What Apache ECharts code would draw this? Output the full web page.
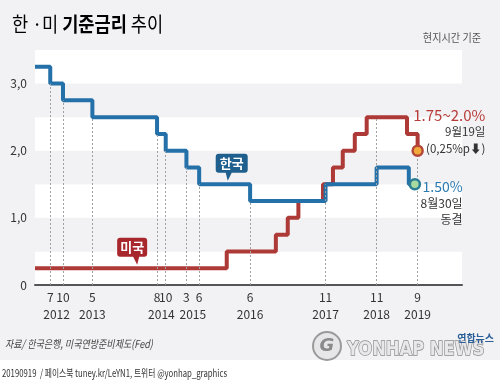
<!DOCTYPE html>
<html><head><meta charset="utf-8">
<script src="https://cdn.jsdelivr.net/npm/echarts@6/dist/echarts.min.js"></script>
<style>html,body{margin:0;padding:0;background:#f2f2f4;} #c{width:500px;height:385px;}</style>
</head><body><div id="c"></div>
<script>
// ---- data ----
const krDates = ['2012-03-25','2012-07-12','2012-10-11','2013-05-09','2014-08-14','2014-10-15','2015-03-12','2015-06-11','2016-06-09','2017-11-30','2018-11-30','2019-07-18','2019-08-30'];
const krRates = [3.25, 3.0, 2.75, 2.5, 2.25, 2.0, 1.75, 1.5, 1.25, 1.5, 1.75, 1.5, 1.5];
const usDates = ['2012-03-25','2015-12-25','2016-12-10','2017-03-05','2017-05-20','2017-11-12','2018-01-22','2018-04-02','2018-06-27','2018-09-20','2019-07-05','2019-09-19'];
const usRates = [0.25, 0.5, 0.75, 1.0, 1.25, 1.5, 1.75, 2.0, 2.25, 2.5, 2.25, 2.0];
const tickDates = ['2012-07-12','2012-10-11','2013-05-09','2014-08-14','2014-10-15','2015-03-12','2015-06-11','2016-06-09','2017-11-30','2018-11-30','2019-09-19'];
const yTicks = [0, 1, 2, 3];
const xMin = '2012-03-25', xMax = '2020-08-01';
const krName = '한국', usName = '미국';
const krBubbleAt = ['2016-01-01', 1.5];
const usBubbleAt = ['2014-03-25', 0.25];
const usNote = ['1.75~2.0%', '9월19일', '(0,25%p⬇)'];
const krNote = ['1.50%', '8월30일', '동결'];

// ---- helpers ----
function t(s){const p=s.split('-').map(Number);return Date.UTC(p[0],p[1]-1,p[2]);}
function rateAt(dates, rates, s){let v=rates[0];for(let i=0;i<dates.length;i++){if(t(dates[i])<=t(s))v=rates[i];}return v;}
const krData = krDates.map((d,i)=>[t(d), krRates[i]]);
const usData = usDates.map((d,i)=>[t(d), usRates[i]]);
const tickTs = tickDates.map(t);
const yearMids = (()=>{const g={};tickDates.forEach(d=>{const y=d.slice(0,4);(g[y]=g[y]||[]).push(t(d));});
  return Object.keys(g).map(y=>(Math.min(...g[y])+Math.max(...g[y]))/2);})();
const dotLines = tickDates.map(d=>[{coord:[t(d),0]},{coord:[t(d),Math.max(rateAt(krDates,krRates,d),rateAt(usDates,usRates,d))]}]);

const BLUE='#2470a8', RED='#ad3a36', FONT='"Noto Sans CJK KR", "Noto Sans", sans-serif';
const krBubble='path://M3,0 H29 Q32,0 32,3 V16 Q32,19 29,19 H16 L12,27 L10,19 H3 Q0,19 0,16 V3 Q0,0 3,0 Z';
const usBubble='path://M3,0 H27 Q30,0 30,3 V16 Q30,19 27,19 H22 L20,27 L16,19 H3 Q0,19 0,16 V3 Q0,0 3,0 Z';

const chart = echarts.init(document.getElementById('c'), null, {renderer:'canvas'});
chart.setOption({
  animation:false,
  backgroundColor:'#f2f2f4',
  textStyle:{fontFamily:FONT},
  grid:{left:35,right:38,top:50,bottom:100,containLabel:false},
  xAxis:[{
    type:'value', min:t(xMin), max:t(xMax),
    axisLine:{show:true,onZero:false,lineStyle:{color:'#555',width:2}},
    axisTick:{show:false}, splitLine:{show:false},
    axisLabel:{customValues:tickTs, margin:6, color:'#333', fontSize:12, fontFamily:FONT, hideOverlap:false,
      formatter:v=>String(new Date(v).getUTCMonth()+1)}
  },{
    type:'value', min:t(xMin), max:t(xMax), position:'bottom', offset:17,
    axisLine:{show:false}, axisTick:{show:false}, splitLine:{show:false},
    axisLabel:{customValues:yearMids, margin:6, color:'#333', fontSize:12, fontFamily:FONT, hideOverlap:false,
      formatter:v=>String(new Date(v).getUTCFullYear())}
  }],
  yAxis:{
    type:'value', min:0, max:3.5, interval:0.5,
    axisLine:{show:false}, axisTick:{show:false}, splitLine:{show:false},
    splitArea:{show:true, areaStyle:{color:['#ffffff','#f2f2f4']}},
    axisLabel:{customValues:yTicks, margin:8, color:'#333', fontSize:12, fontFamily:FONT,
      formatter:v=>v===0?'0':v.toFixed(1).replace('.',',')}
  },
  series:[
    {type:'line', data:[], z:1, silent:true,
     markLine:{silent:true, symbol:['none','none'], label:{show:false},
       lineStyle:{type:[2,2], color:'#a0a0a0', width:1}, emphasis:{disabled:true}, data:dotLines}},
    {name:usName, type:'line', step:'end', data:usData, showSymbol:false, z:3,
     lineStyle:{color:RED,width:4}, itemStyle:{color:RED},
     markPoint:{silent:true, data:[
       {coord:usBubbleAt.map((v,i)=>i?v:t(v)), symbol:usBubble, symbolSize:[30,27], symbolOffset:[-5,-17],
        itemStyle:{color:'#a8272c'}, label:{show:true, formatter:usName, color:'#fff', fontSize:13, fontWeight:'bold', offset:[0,-4]}},
       {coord:usData[usData.length-1], symbol:'circle', symbolSize:10,
        itemStyle:{color:'#f2a93b', borderColor:'#b5473a', borderWidth:2.5},
        label:{show:true, position:[74,-38], align:'right', verticalAlign:'top',
          formatter:'{a|'+usNote[0]+'}\n{b|'+usNote[1]+'}\n{b|'+usNote[2]+'}',
          rich:{a:{fontSize:15,color:'#b83c3a',lineHeight:17,align:'right',fontFamily:FONT},
                b:{fontSize:11.5,color:'#333',lineHeight:17,align:'right',fontFamily:FONT}}}}
     ]}},
    {name:krName, type:'line', step:'end', data:krData, showSymbol:false, z:4,
     lineStyle:{color:BLUE,width:4}, itemStyle:{color:BLUE},
     markPoint:{silent:true, data:[
       {coord:krBubbleAt.map((v,i)=>i?v:t(v)), symbol:krBubble, symbolSize:[32,27], symbolOffset:[4,-17],
        itemStyle:{color:'#1e5f8e'}, label:{show:true, formatter:krName, color:'#fff', fontSize:13, fontWeight:'bold', offset:[0,-4]}},
       {coord:krData[krData.length-1], symbol:'circle', symbolSize:10,
        itemStyle:{color:'#a9dba0', borderColor:'#2a7d95', borderWidth:2.5},
        label:{show:true, position:[54,0], align:'right', verticalAlign:'top',
          formatter:'{a|'+krNote[0]+'}\n{b|'+krNote[1]+'}\n{b|'+krNote[2]+'}',
          rich:{a:{fontSize:14,color:'#2a7ab0',lineHeight:17,align:'right',fontFamily:FONT},
                b:{fontSize:12,color:'#333',lineHeight:16,align:'right',fontFamily:FONT}}}}
     ]}}
  ],
  graphic:[
    {type:'rect', shape:{x:0,y:360,width:500,height:25}, style:{fill:'#ffffff'}, z:0},
    {type:'text', x:12, y:14, scaleX:0.88, style:{text:'{n|한 ·미 }{b|기준금리}{n| 추이}',
      rich:{n:{fontSize:20,color:'#3a3a3a',fontFamily:FONT},b:{fontSize:20,fontWeight:'bold',color:'#111',fontFamily:FONT}}}},
    {type:'text', x:481, y:38, scaleX:0.92, style:{text:'현지시간 기준', fontSize:11, fill:'#555', align:'right', verticalAlign:'middle', fontFamily:FONT}},
    {type:'text', x:5, y:344, scaleX:0.82, style:{text:'자료/ 한국은행, 미국연방준비제도(Fed)', fontSize:11, fontStyle:'italic', fill:'#444', verticalAlign:'middle', fontFamily:FONT}},
    {type:'text', x:2, y:373, scaleX:0.74, style:{text:'20190919  / 페이스북 tuney.kr/LeYN1, 트위터 @yonhap_graphics', fontSize:10.5, fill:'#333', verticalAlign:'middle', fontFamily:FONT}},
    {type:'circle', shape:{cx:327,cy:346,r:14}, style:{fill:'#e6e6e8', stroke:'#9a9a9a', lineWidth:2}, z:5},
    {type:'text', x:327, y:346, style:{text:'G', fontSize:18, fontWeight:'bold', fontStyle:'italic', fill:'#8a8a8a', align:'center', verticalAlign:'middle', fontFamily:'DejaVu Sans'}, z:6},
    {type:'text', x:347, y:350, scaleX:0.86, style:{text:'YONHAP NEWS', fontSize:19, fontWeight:'bold', fill:'#e8e8ea', stroke:'#8c8c8c', lineWidth:1.5, verticalAlign:'middle', fontFamily:'DejaVu Sans'}, z:5},
    {type:'text', x:494, y:338, style:{text:'연합뉴스', fontSize:10, fontWeight:'bold', fill:'#2a5f9a', align:'right', verticalAlign:'middle', fontFamily:FONT}, z:6}
  ]
});
</script></body></html>
